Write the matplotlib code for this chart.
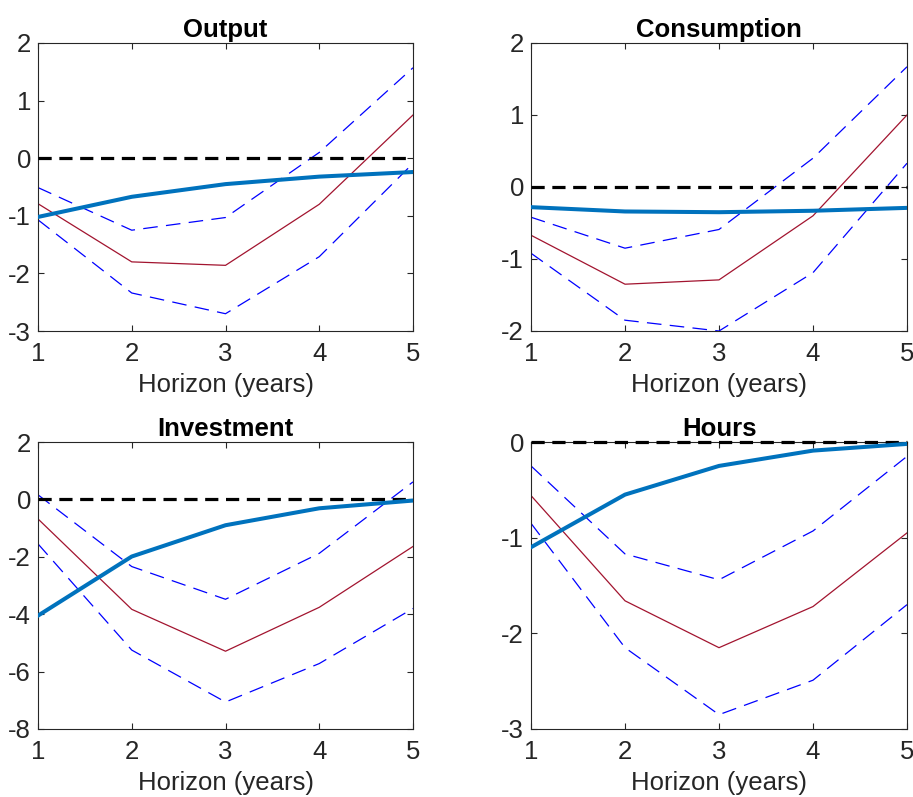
"""
Impulse responses: Output, Consumption, Investment, Hours
"""

###############################################################################
# Libraries
import numpy as np
import matplotlib
matplotlib.use('Agg')
import matplotlib.pyplot as plt

####################################
# Data
horizon = [1, 2, 3, 4, 5]

titles = ['Output', 'Consumption', 'Investment', 'Hours']

# thick blue line (model)
output_model = [-1.02, -0.67, -0.45, -0.32, -0.24]
cons_model = [-0.28, -0.34, -0.35, -0.33, -0.29]
inv_model = [-4.05, -1.99, -0.90, -0.31, -0.04]
hours_model = [-1.10, -0.55, -0.25, -0.09, -0.02]

# thin red line (point estimate)
output_est = [-0.79, -1.80, -1.86, -0.80, 0.75]
cons_est = [-0.67, -1.35, -1.29, -0.40, 1.00]
inv_est = [-0.68, -3.83, -5.29, -3.76, -1.64]
hours_est = [-0.56, -1.66, -2.15, -1.72, -0.95]

# dashed blue bands
output_hi = [-0.51, -1.25, -1.03, 0.10, 1.57]
output_lo = [-1.07, -2.34, -2.70, -1.71, -0.09]
cons_hi = [-0.42, -0.85, -0.59, 0.40, 1.67]
cons_lo = [-0.92, -1.85, -2.00, -1.19, 0.33]
inv_hi = [0.16, -2.34, -3.48, -1.88, 0.61]
inv_lo = [-1.55, -5.25, -7.06, -5.72, -3.80]
hours_hi = [-0.25, -1.17, -1.44, -0.93, -0.15]
hours_lo = [-0.85, -2.15, -2.85, -2.49, -1.70]

ylims = [(-3, 2), (-2, 2), (-8, 2), (-3, 0)]
yticks = [[-3, -2, -1, 0, 1, 2], [-2, -1, 0, 1, 2],
          [-8, -6, -4, -2, 0, 2], [-3, -2, -1, 0]]

models = [output_model, cons_model, inv_model, hours_model]
ests = [output_est, cons_est, inv_est, hours_est]
his = [output_hi, cons_hi, inv_hi, hours_hi]
los = [output_lo, cons_lo, inv_lo, hours_lo]

####################################
# Style
plt.rcParams['font.family'] = ['Liberation Sans', 'DejaVu Sans']
plt.rcParams['lines.scale_dashes'] = False
plt.rcParams['axes.unicode_minus'] = False
axcol = '#262626'
fs = 18.5

W, H = 913, 797
fig = plt.figure(figsize=(W/100, H/100), dpi=100)

# axes boxes in pixels: left, top, right, bottom
boxes = [(38, 43, 413, 331), (531, 43, 907, 331),
         (38, 442, 413, 729), (531, 442, 907, 729)]

for k in range(4):
    l, t, r, b = boxes[k]
    ax = fig.add_axes([l/W, 1-b/H, (r-l)/W, (b-t)/H])
    ax.plot(horizon, np.zeros(len(horizon)), color='k', lw=2.3,
            dashes=(9.5, 5.5), clip_on=False, zorder=2.6)
    ax.plot(horizon, his[k], color='b', lw=0.9, dashes=(10.5, 6))
    ax.plot(horizon, los[k], color='b', lw=0.9, dashes=(10.5, 6))
    ax.plot(horizon, ests[k], color='#A2142F', lw=0.9)
    ax.plot(horizon, models[k], color='#0072BD', lw=2.9, zorder=3)
    ax.set_xlim(1, 5)
    ax.set_ylim(*ylims[k])
    ax.set_xticks(horizon)
    ax.set_yticks(yticks[k])
    ax.set_title(titles[k], fontsize=fs, fontweight='bold', pad=4)
    ax.set_xlabel('Horizon (years)', fontsize=fs, color=axcol, labelpad=5)
    ax.tick_params(direction='in', top=True, right=True, length=4,
                   width=0.8, labelsize=fs, colors=axcol)
    ax.tick_params(axis='x', pad=8)
    ax.tick_params(axis='y', pad=5)
    for s in ax.spines.values():
        s.set_color(axcol)
        s.set_linewidth(0.8)

plt.savefig('out.png', dpi=100)
plt.close()
